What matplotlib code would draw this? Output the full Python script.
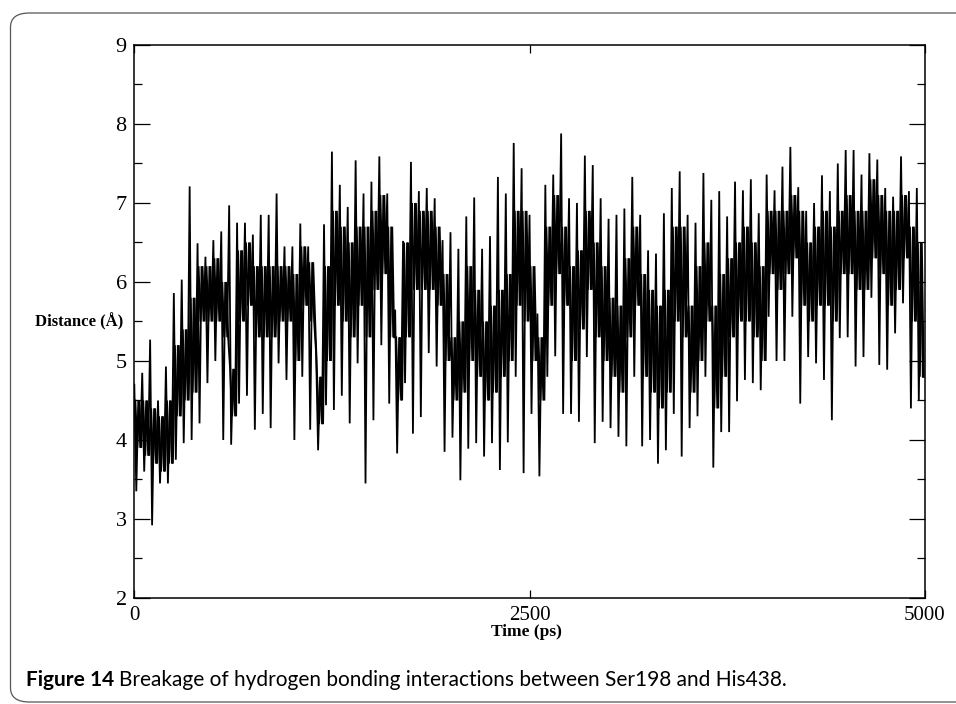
import numpy as np
import matplotlib
matplotlib.use("Agg")
import matplotlib.pyplot as plt
from matplotlib.patches import FancyBboxPatch
from matplotlib.ticker import MultipleLocator, FixedLocator

# ---- data (50 ps windows) ----
window_start = list(range(0, 5000, 50))  # ps

upper = [4.70, 4.85, 5.27, 4.50, 4.93, 5.86, 6.03, 7.21, 6.49, 6.32,
         6.53, 6.64, 6.97, 6.75, 6.75, 6.60, 6.85, 6.85, 7.12, 6.45,
         6.45, 6.74, 6.45, 5.10, 6.73, 7.65, 7.23, 6.95, 7.54, 7.12,
         7.27, 7.59, 7.12, 5.65, 6.52, 7.52, 7.15, 7.19, 7.06, 6.53,
         6.63, 6.42, 6.83, 7.07, 6.42, 6.58, 7.33, 7.12, 7.76, 7.44,
         6.85, 5.60, 7.23, 7.36, 7.88, 7.06, 7.00, 7.60, 7.48, 7.06,
         6.80, 6.85, 6.93, 7.33, 6.85, 6.40, 6.36, 6.87, 7.19, 7.40,
         6.85, 6.75, 7.38, 7.04, 7.15, 6.83, 7.27, 7.16, 7.30, 6.87,
         7.36, 7.16, 7.46, 7.71, 7.20, 6.90, 7.00, 7.35, 7.15, 7.50,
         7.67, 7.67, 7.36, 7.63, 7.55, 7.19, 7.08, 7.59, 7.15, 7.19]

lower = [3.35, 3.60, 2.92, 3.45, 3.45, 3.75, 3.96, 4.00, 4.21, 4.72,
         5.00, 4.00, 3.94, 4.46, 4.56, 4.13, 4.33, 4.15, 4.97, 4.76,
         4.00, 4.80, 4.13, 3.87, 4.44, 4.38, 4.56, 4.21, 4.97, 3.45,
         4.25, 5.20, 4.46, 3.83, 4.72, 4.08, 4.29, 5.10, 4.93, 3.85,
         4.03, 3.49, 3.89, 3.96, 3.79, 3.96, 3.62, 3.97, 4.80, 3.58,
         4.33, 3.54, 4.80, 5.06, 4.33, 4.33, 4.23, 5.05, 3.96, 4.23,
         4.15, 4.04, 3.92, 4.80, 3.92, 4.00, 3.70, 3.87, 4.33, 3.79,
         4.15, 4.30, 4.80, 3.65, 4.10, 4.10, 4.49, 4.76, 4.72, 4.63,
         5.56, 5.00, 5.00, 5.56, 4.46, 5.05, 4.97, 4.76, 4.25, 5.29,
         5.30, 4.93, 5.05, 5.80, 4.95, 4.89, 5.35, 5.73, 4.40, 4.50]

core_top = [4.5, 4.5, 4.4, 4.3, 4.5, 5.2, 5.4, 5.8, 6.2, 6.2,
            6.3, 6.0, 4.9, 6.4, 6.5, 6.2, 6.2, 6.2, 6.2, 6.2,
            6.1, 6.45, 6.25, 4.8, 6.2, 6.9, 6.7, 6.5, 6.7, 6.7,
            6.9, 7.1, 6.7, 5.3, 6.5, 7.0, 6.9, 6.9, 6.7, 6.1,
            5.3, 5.5, 6.2, 5.9, 5.5, 5.7, 5.9, 6.1, 6.9, 6.9,
            6.2, 5.3, 6.7, 7.1, 6.7, 6.2, 6.4, 6.9, 6.5, 6.2,
            5.8, 5.7, 6.3, 6.7, 6.1, 5.9, 5.7, 5.9, 6.7, 6.7,
            5.7, 6.2, 6.5, 5.7, 6.1, 6.3, 6.5, 6.7, 6.5, 6.2,
            6.9, 6.9, 6.9, 7.1, 6.9, 6.5, 6.7, 6.9, 6.7, 6.9,
            7.1, 6.9, 6.9, 7.3, 7.1, 6.9, 6.9, 7.1, 6.7, 6.5]

core_bottom = [3.9, 3.8, 3.7, 3.6, 3.7, 4.3, 4.5, 4.6, 5.5, 5.5,
               5.5, 5.3, 4.3, 5.5, 5.7, 5.3, 5.3, 5.3, 5.5, 5.5,
               5.0, 5.7, 5.5, 4.2, 5.0, 5.7, 5.5, 5.3, 5.7, 5.3,
               5.9, 6.1, 5.3, 4.5, 5.3, 5.9, 5.9, 5.9, 5.7, 5.0,
               4.5, 4.6, 5.0, 4.8, 4.5, 4.6, 4.8, 5.0, 5.7, 5.5,
               5.0, 4.5, 5.7, 6.1, 5.7, 5.0, 5.4, 5.9, 5.3, 5.0,
               4.8, 4.6, 5.3, 5.7, 4.8, 4.6, 4.4, 4.6, 5.5, 5.3,
               4.6, 5.0, 5.5, 4.4, 4.8, 5.3, 5.5, 5.5, 5.3, 5.0,
               6.1, 5.9, 6.1, 6.3, 5.7, 5.5, 5.7, 5.7, 5.5, 6.1,
               6.1, 5.9, 5.9, 6.3, 6.1, 5.7, 5.9, 6.3, 5.5, 4.8]

x_ticks = [0, 2500, 5000]
y_ticks = [2, 3, 4, 5, 6, 7, 8, 9]

caption_bold = "Figure 14"
caption_rest = "Breakage of hydrogen bonding interactions between Ser198 and His438."

# ---- build the trace: the read extremes of each window, in turn ----
t, d = [], []
for i, t0 in enumerate(window_start):
    t += [t0, t0 + 12.5, t0 + 25, t0 + 37.5]
    d += [upper[i], lower[i], core_top[i], core_bottom[i]]

# dense part of the trace: the band between the read core edges
tc, dc = [], []
for i, t0 in enumerate(window_start):
    tc += [t0 + 6.25, t0 + 18.75, t0 + 31.25, t0 + 43.75]
    dc += [core_top[i], core_bottom[i], core_top[i], core_bottom[i]]

serif = ["Liberation Serif", "DejaVu Serif"]

fig = plt.figure(figsize=(9.56, 7.04), dpi=100)
ax = fig.add_axes([0.1405, 0.1506, 0.8268, 0.7855])
ax.plot(tc, dc, color="black", lw=1.4, solid_joinstyle="miter")
ax.plot(t, d, color="black", lw=1.3, solid_joinstyle="miter")

ax.set_xlim(0, 5000)
ax.set_ylim(2, 9)
ax.xaxis.set_major_locator(FixedLocator(x_ticks))
ax.yaxis.set_major_locator(FixedLocator(y_ticks))
ax.yaxis.set_minor_locator(MultipleLocator(0.5))
ax.tick_params(axis="y", which="major", direction="in", length=11.3, width=0.9,
               right=True, labelsize=16, pad=5.5)
ax.tick_params(axis="y", which="minor", direction="in", length=5.8, width=0.9, right=True)
ax.tick_params(axis="x", which="major", direction="in", length=5.8, width=0.9,
               top=True, labelsize=15, pad=6)
for lab in ax.get_xticklabels() + ax.get_yticklabels():
    lab.set_family(serif)
for s in ax.spines.values():
    s.set_linewidth(1.1)

ax.set_ylabel("Distance (Å)", rotation=0, ha="right", va="center",
              fontsize=12, fontweight="bold", family=serif)
ax.yaxis.set_label_coords(-0.0143, 0.5)
ax.set_xlabel("Time (ps)", fontsize=12.5, fontweight="bold", family=serif, va="center")
ax.xaxis.set_label_coords(0.4955, -0.061)

# rounded frame
frame = FancyBboxPatch((10.5 / 956, 1 - 702 / 704), 1.2, (702 - 13) / 704,
                       boxstyle="round,pad=0,rounding_size=0.02",
                       transform=fig.transFigure, fill=False,
                       edgecolor="#555555", lw=0.9, clip_on=False)
fig.patches.append(frame)

# caption, sized so that it spans the same width as in the reference
cap_y = 1 - 680 / 704
fam = ["Lato", "DejaVu Sans"]
size = 12.0
renderer = fig.canvas.get_renderer()
for _ in range(2):
    a = fig.text(26 / 956, cap_y, caption_bold + " ", fontsize=size, fontweight="bold",
                 family=fam, va="center", ha="left")
    wa = a.get_window_extent(renderer).width
    b = fig.text(0, cap_y, caption_rest, fontsize=size, family=fam, va="center", ha="left")
    wb = b.get_window_extent(renderer).width
    a.remove(); b.remove()
    size *= 760.0 / (wa + wb)
fig.text(26 / 956, cap_y, caption_bold, fontsize=size, fontweight="bold",
         family=fam, va="center", ha="left")
sp = fig.text(26 / 956, cap_y, caption_bold + " ", fontsize=size, fontweight="bold",
              family=fam, va="center", ha="left", alpha=0)
bb = sp.get_window_extent(renderer)
sp.remove()
fig.text(bb.x1 / 956, cap_y, caption_rest, fontsize=size, family=fam,
         va="center", ha="left")

fig.savefig("out.png", dpi=100)
